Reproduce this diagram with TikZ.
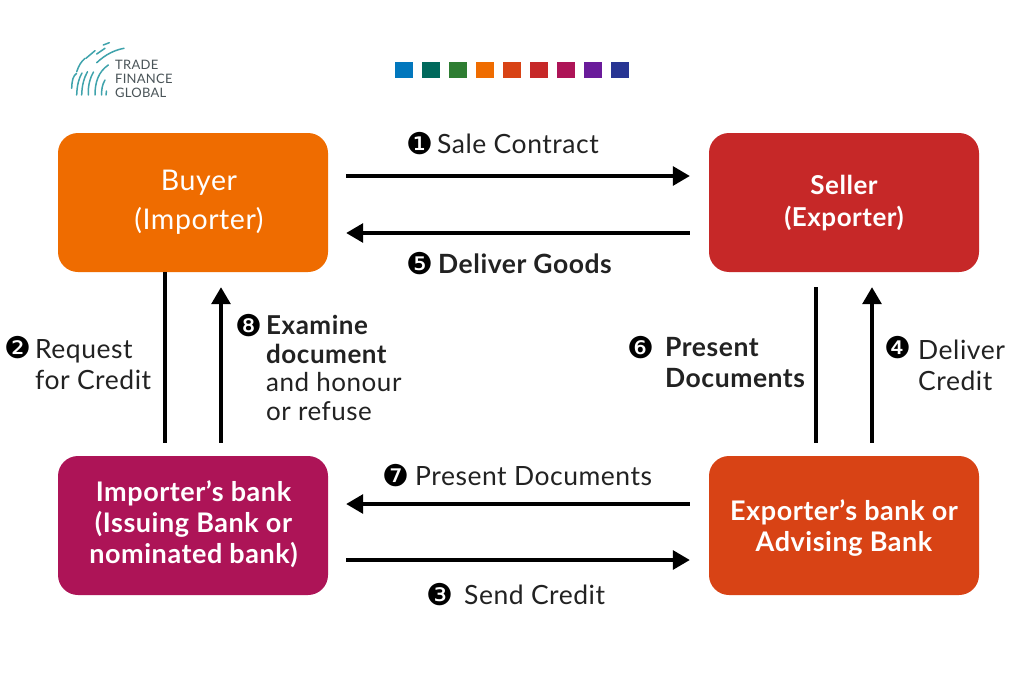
\documentclass[tikz,border=0pt]{standalone}
\usepackage{fontspec}
\setmainfont{Lato}[LetterSpace=2]
\newfontfamily\numfont{DejaVu Sans}
\usetikzlibrary{arrows.meta}
\definecolor{cBlue}{HTML}{0277BD}
\definecolor{cTeal}{HTML}{00695C}
\definecolor{cGreen}{HTML}{2E7D32}
\definecolor{cOrange}{HTML}{EF6C00}
\definecolor{cDeep}{HTML}{D84315}
\definecolor{cRed}{HTML}{C62828}
\definecolor{cMag}{HTML}{AD1457}
\definecolor{cPurple}{HTML}{6A1B9A}
\definecolor{cIndigo}{HTML}{283593}
\definecolor{cLogo}{HTML}{3FA3AC}
\definecolor{cLogoText}{HTML}{4A5458}
\definecolor{cText}{HTML}{222222}
\tikzset{
  x=1pt,y=-1pt,
  bigbox/.style={rounded corners=20pt,minimum width=270pt,minimum height=139pt,inner sep=0pt},
  boxtxt/.style={inner sep=0pt,align=center,text=white},
  sq/.style={minimum width=18pt,minimum height=16pt,inner sep=0pt},
  lab/.style={anchor=west,inner sep=0pt,align=left,text=cText,font=\fontsize{26.5}{31}\selectfont},
  numlab/.style={inner sep=0pt,text=black,font=\numfont\fontsize{30}{30}\selectfont},
  conn/.style={line width=3.2pt,black},
  arr/.style={conn,-{Triangle[length=17pt,width=19pt]}},
  logo/.style={cLogo,line width=1.5pt,line cap=round}
}
\begin{document}
\begin{tikzpicture}
\useasboundingbox (0,0) rectangle (1024,698);
\fill[white] (0,0) rectangle (1024,698);
% squares
\foreach \c/\x in {cBlue/404,cTeal/431,cGreen/458,cOrange/485,cDeep/512,cRed/539,cMag/566,cPurple/593,cIndigo/620}
  \node[sq,fill=\c] (sq\c) at (\x,70) {};
% logo
\draw[logo] (103.3,45) -- (109.3,42.7);
\draw[logo] (96.7,54) -- (105,48.3);
\draw[logo] (96.7,62.7) .. controls (106,54) and (115,50) .. (124,48.3);
\draw[logo] (86,58.3) -- (95,50.7);
\draw[logo] (76.7,71.7) .. controls (79,65) and (81,62) .. (85,58.3);
\draw[logo] (71.7,88.3) .. controls (72,80) and (73,76) .. (76.7,73.3);
\draw[logo] (76.7,95) .. controls (77,85) and (79,78) .. (82,73);
\draw[logo] (81.7,95) .. controls (82,85) and (84,78) .. (87.5,71.7);
\draw[logo] (88.3,95) .. controls (88,85) and (90,78) .. (93.5,72);
\draw[logo] (95,95) .. controls (95,83) and (98,72) .. (108.3,65);
\draw[logo] (101.7,95) .. controls (101.5,90) and (102,85) .. (105,80);
\draw[logo] (106,95) -- (106.5,91);
\node[anchor=west,inner sep=0pt,align=left,text=cLogoText,font=\fontsize{13}{14}\selectfont] (logotext) at (115,78.5) {TRADE\\FINANCE\\GLOBAL};
% boxes
\node[bigbox,fill=cOrange] (buyer) at (193,202.5) {};
\node[bigbox,fill=cRed] (seller) at (844,202.5) {};
\node[bigbox,fill=cMag] (ibank) at (193,525.5) {};
\node[bigbox,fill=cDeep] (ebank) at (844,525.5) {};
\node[boxtxt,font=\fontsize{28.5}{39}\selectfont] (buyertxt) at (199,202.5) {Buyer\\(Importer)};
\node[boxtxt,font=\fontsize{26}{32}\selectfont\bfseries] (sellertxt) at (844,203) {Seller\\(Exporter)};
\node[boxtxt,font=\fontsize{27}{31}\selectfont\bfseries] (ibanktxt) at (193.5,524.5) {Importer’s bank\\(Issuing Bank or\\nominated bank)};
\node[boxtxt,font=\fontsize{27}{31}\selectfont\bfseries] (ebanktxt) at (844,528.5) {Exporter’s bank or\\Advising Bank};
% connectors
\draw[arr] ([xshift=18pt,yshift=26.5pt]buyer.east) -- ([xshift=-19pt,yshift=26.5pt]seller.west);
\draw[arr] ([xshift=-19pt,yshift=-30.5pt]seller.west) -- ([xshift=18pt,yshift=-30.5pt]buyer.east);
\draw[conn] ([xshift=-28pt]buyer.south) -- ([xshift=-28pt,yshift=13pt]ibank.north);
\draw[arr] ([xshift=28pt,yshift=13pt]ibank.north) -- ([xshift=28pt,yshift=-15pt]buyer.south);
\draw[conn] ([xshift=-28pt,yshift=-15pt]seller.south) -- ([xshift=-28pt,yshift=13pt]ebank.north);
\draw[arr] ([xshift=28pt,yshift=13pt]ebank.north) -- ([xshift=28pt,yshift=-15pt]seller.south);
\draw[arr] ([xshift=-19pt,yshift=21.5pt]ebank.west) -- ([xshift=18pt,yshift=21.5pt]ibank.east);
\draw[arr] ([xshift=18pt,yshift=-34.5pt]ibank.east) -- ([xshift=-19pt,yshift=-34.5pt]ebank.west);
% labels
\node[numlab] (n1) at (420,144) {❶};
\node[lab] (l1) at (437,144) {Sale Contract};
\node[numlab] (n5) at (420,264) {❺};
\node[lab] (l5) at (438,264) {\textbf{Deliver Goods}};
\node[numlab] (n2) at (18,348) {❷};
\node[lab] (l2) at (35,365) {Request\\for Credit};
\node[numlab] (n8) at (249,326) {❽};
\node[lab,font=\fontsize{26}{28.8}\selectfont] (l8) at (266,368) {\textbf{Examine}\\\textbf{document}\\and honour\\or refuse};
\node[numlab] (n6) at (641,348) {❻};
\node[lab] (l6) at (665,363) {\textbf{Present}\\\textbf{Documents}};
\node[numlab] (n4) at (898,348) {❹};
\node[lab] (l4) at (918,365) {Deliver\\Credit};
\node[numlab] (n7) at (396,476) {❼};
\node[lab] (l7) at (415,476) {Present Documents};
\node[numlab] (n3) at (440,595) {❸};
\node[lab] (l3) at (464,595) {Send Credit};
\end{tikzpicture}
\end{document}
